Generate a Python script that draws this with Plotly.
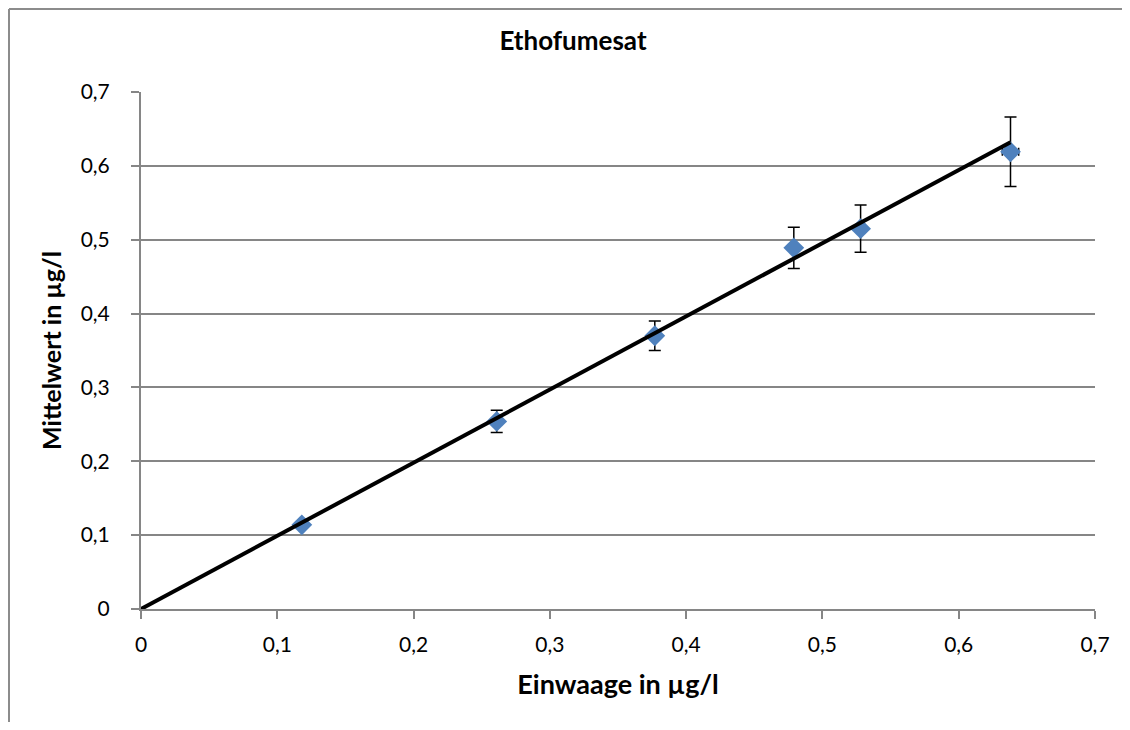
import plotly.graph_objects as go

x_vals = [0.118, 0.261, 0.377, 0.479, 0.528, 0.638]
y_vals = [0.114, 0.254, 0.370, 0.489, 0.515, 0.619]
y_err = [0.004, 0.015, 0.020, 0.028, 0.032, 0.047]
x_err = [0.0, 0.0, 0.0, 0.0, 0.0, 0.006]
trend_x = [0.0, 0.638]
trend_y = [0.0, 0.632]
ticks = [0, 0.1, 0.2, 0.3, 0.4, 0.5, 0.6, 0.7]
tick_text = ["0", "0,1", "0,2", "0,3", "0,4", "0,5", "0,6", "0,7"]

FONT = "Lato"
W, H = 1114, 714
L, T, PW, PH = 133, 84, 954, 517

fig = go.Figure()
fig.add_trace(go.Scatter(
    x=x_vals, y=y_vals, mode="markers",
    marker=dict(symbol="diamond", size=16, color="#4F81BD"),
    error_y=dict(type="data", array=y_err, color="black", thickness=1.5, width=6),
    error_x=dict(type="data", array=x_err, color="black", thickness=1.5, width=4),
    showlegend=False,
))
fig.add_trace(go.Scatter(
    x=trend_x, y=trend_y, mode="lines",
    line=dict(color="black", width=4), showlegend=False,
))

axis_common = dict(
    range=[0, 0.7], tickvals=ticks, ticktext=tick_text,
    showline=True, linecolor="#868686", linewidth=2,
    ticks="outside", ticklen=8, tickcolor="#868686", tickwidth=2,
    tickfont=dict(family=FONT, size=21, color="black"),
    zeroline=False,
)
fig.update_xaxes(**axis_common, showgrid=False, ticklabelstandoff=8,
                 title=dict(text="<b>Einwaage in µg/l</b>", font=dict(family=FONT, size=27, color="black"), standoff=20))
fig.update_yaxes(**axis_common, showgrid=True, gridcolor="#868686", gridwidth=1.5, ticklabelstandoff=17,
                 title=dict(text="<b>Mittelwert in µg/l</b>", font=dict(family=FONT, size=25, color="black"), standoff=12))

fig.update_layout(
    width=W, height=H,
    margin=dict(l=L, r=W - L - PW, t=T, b=H - T - PH),
    plot_bgcolor="white", paper_bgcolor="white",
    title=dict(text="<b>Ethofumesat</b>", xref="container", yref="container",
               x=565 / W, xanchor="center", y=1 - 33 / H, yanchor="middle",
               font=dict(family=FONT, size=26, color="black")),
    shapes=[
        dict(type="line", xref="paper", yref="paper",
             x0=(1 - L) / PW, x1=(W - L) / PW, y0=(T + PH - 1) / PH, y1=(T + PH - 1) / PH,
             line=dict(color="#8c8c8c", width=2)),
        dict(type="line", xref="paper", yref="paper",
             x0=(1 - L) / PW, x1=(1 - L) / PW, y0=-(H - T - PH) / PH, y1=(T + PH - 1) / PH,
             line=dict(color="#8c8c8c", width=2)),
    ],
)
fig.write_html("out.html")
